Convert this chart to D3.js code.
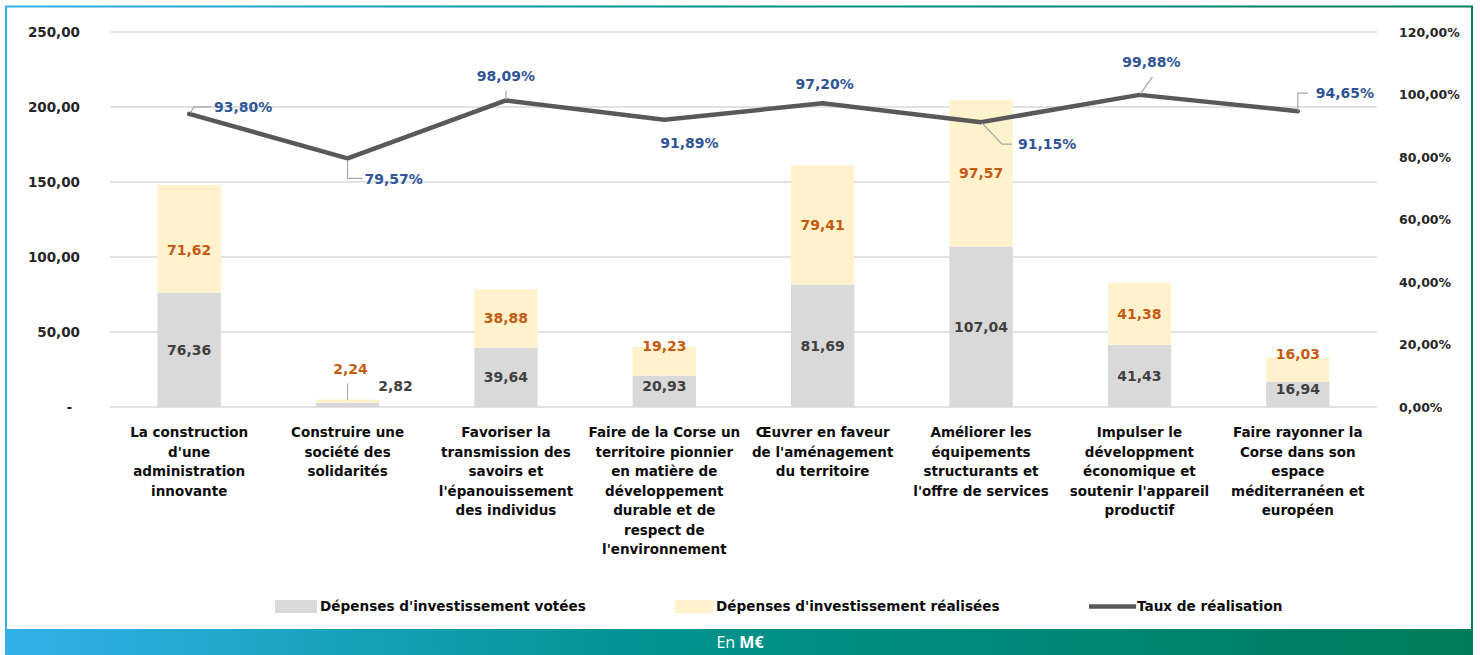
<!DOCTYPE html>
<html lang="fr">
<head>
<meta charset="utf-8">
<script src="https://cdn.jsdelivr.net/npm/d3@7"></script>
<style>
  html, body { margin: 0; padding: 0; background: #ffffff; }
  svg { display: block; }
  text { font-family: "DejaVu Sans", Verdana, sans-serif; }
</style>
</head>
<body>
<svg id="chart" width="1480" height="655"></svg>
<script>
// Axes des programmes (catégories)
const categories = [
  ["La construction", "d'une", "administration", "innovante"],
  ["Construire une", "société des", "solidarités"],
  ["Favoriser la", "transmission des", "savoirs et", "l'épanouissement", "des individus"],
  ["Faire de la Corse un", "territoire pionnier", "en matière de", "développement", "durable et de", "respect de", "l'environnement"],
  ["Œuvrer en faveur", "de l'aménagement", "du territoire"],
  ["Améliorer les", "équipements", "structurants et", "l'offre de services"],
  ["Impulser le", "développment", "économique et", "soutenir l'appareil", "productif"],
  ["Faire rayonner la", "Corse dans son", "espace", "méditerranéen et", "européen"]
];

// Montants en M€
const voted    = [76.36, 2.82, 39.64, 20.93, 81.69, 107.04, 41.43, 16.94];
const realized = [71.62, 2.24, 38.88, 19.23, 79.41, 97.57, 41.38, 16.03];
// Taux de réalisation (%)
const rate     = [93.80, 79.57, 98.09, 91.89, 97.20, 91.15, 99.88, 94.65];

const leftTicks  = [0, 50, 100, 150, 200, 250];
const rightTicks = [0, 20, 40, 60, 80, 100, 120];

const seriesNames = ["Dépenses d'investissement votées", "Dépenses d'investissement réalisées", "Taux de réalisation"];

const COLORS = {
  voted: "#d9d9d9",
  realized: "#fff2cc",
  line: "#595959",
  votedLabel: "#404040",
  realizedLabel: "#c55a11",
  rateLabel: "#2f5597",
  grid: "#d9d9d9",
  axisText: "#262626",
  leader: "#a6a6a6"
};

const fr = d3.formatLocale({ decimal: ",", thousands: " ", grouping: [3], currency: ["", " €"] });
const fmt2 = fr.format(".2f");

const svg = d3.select("#chart");
const keys = categories.map((c, i) => "c" + i);

// Plot area
const plot = { left: 110, right: 1377, top: 32, bottom: 407 };

const x = d3.scaleBand().domain(keys).range([plot.left, plot.right]).paddingInner(0.6).paddingOuter(0.3);
const yL = d3.scaleLinear().domain([0, 250]).range([plot.bottom, plot.top]);
const yR = d3.scaleLinear().domain([0, 120]).range([plot.bottom, plot.top]);

// Frame + footer gradients
const defs = svg.append("defs");
const grad = defs.append("linearGradient").attr("id", "band").attr("x1", "0").attr("x2", "1").attr("y1", "0").attr("y2", "0");
grad.append("stop").attr("offset", "0").attr("stop-color", "#31b1e9");
grad.append("stop").attr("offset", "0.45").attr("stop-color", "#00938e");
grad.append("stop").attr("offset", "1").attr("stop-color", "#007c5c");

svg.append("rect")
  .attr("x", 6).attr("y", 6.5).attr("width", 1466).attr("height", 630)
  .attr("fill", "none").attr("stroke", "url(#band)").attr("stroke-width", 2);

svg.append("rect")
  .attr("x", 5).attr("y", 629).attr("width", 1468).attr("height", 26)
  .attr("fill", "url(#band)");

const footer = svg.append("text")
  .attr("x", 740).attr("y", 648)
  .attr("text-anchor", "middle")
  .attr("fill", "#ffffff")
  .style("font-family", "'Open Sans', sans-serif")
  .style("font-size", "16px");
footer.append("tspan").text("En ");
footer.append("tspan").attr("font-weight", "bold").text("M€");

// Gridlines
svg.append("g")
  .selectAll("line")
  .data(leftTicks)
  .join("line")
  .attr("x1", plot.left).attr("x2", plot.right)
  .attr("y1", d => yL(d)).attr("y2", d => yL(d))
  .attr("stroke", COLORS.grid).attr("stroke-width", 1.5);

// Left axis
const axL = svg.append("g")
  .attr("transform", `translate(${plot.left},0)`)
  .call(d3.axisLeft(yL).tickValues(leftTicks).tickSize(0).tickPadding(30)
    .tickFormat(d => d === 0 ? "-" : fmt2(d)));
axL.select(".domain").remove();
axL.selectAll("text")
  .attr("fill", COLORS.axisText)
  .style("font-size", "13.5px").style("font-weight", "bold")
  .attr("dx", d => d === 0 ? -8 : 0);

// Right axis
const axR = svg.append("g")
  .attr("transform", `translate(${plot.right},0)`)
  .call(d3.axisRight(yR).tickValues(rightTicks).tickSize(0).tickPadding(22)
    .tickFormat(d => fmt2(d) + "%"));
axR.select(".domain").remove();
axR.selectAll("text")
  .attr("fill", COLORS.axisText)
  .style("font-size", "12.5px").style("font-weight", "bold");

// Stacked bars
const rows = keys.map((k, i) => ({ key: k, voted: voted[i], realized: realized[i] }));
const stack = d3.stack().keys(["voted", "realized"])(rows);
const fills = { voted: COLORS.voted, realized: COLORS.realized };

svg.append("g")
  .selectAll("g")
  .data(stack)
  .join("g")
  .attr("fill", s => fills[s.key])
  .selectAll("rect")
  .data(s => s)
  .join("rect")
  .attr("x", d => x(d.data.key))
  .attr("width", x.bandwidth())
  .attr("y", d => yL(d[1]))
  .attr("height", d => yL(d[0]) - yL(d[1]));

// Bar value labels: nudges for segments too small to hold their label
const votedNudge    = [[0, 0], [48, -19], [0, 0], [0, -5], [0, 0], [0, 0], [0, 0], [0, -5]];
const realizedNudge = [[0, 11], [3, -32], [0, 0], [0, -15], [0, 0], [0, 0], [0, 0], [0, -16]];

const labelLayer = svg.append("g").style("font-size", "14px").style("font-weight", "bold").attr("text-anchor", "middle");

stack.forEach(s => {
  const nudge = s.key === "voted" ? votedNudge : realizedNudge;
  labelLayer.append("g")
    .attr("fill", s.key === "voted" ? COLORS.votedLabel : COLORS.realizedLabel)
    .selectAll("text")
    .data(s)
    .join("text")
    .attr("x", (d, i) => x(d.data.key) + x.bandwidth() / 2 + nudge[i][0])
    .attr("y", (d, i) => (yL(d[0]) + yL(d[1])) / 2 + nudge[i][1])
    .attr("dy", "0.36em")
    .text(d => fmt2(d.data[s.key]));
});

// Leader for the small realized segment
{
  const i = 1;
  const cx = x(keys[i]) + x.bandwidth() / 2;
  const cy = (yL(voted[i]) + yL(voted[i] + realized[i])) / 2;
  svg.append("path")
    .attr("d", `M${cx},${cy - 18}V${cy - 1}`)
    .attr("stroke", COLORS.leader).attr("fill", "none").attr("stroke-width", 1);
}

// Rate line
const cxOf = i => x(keys[i]) + x.bandwidth() / 2;
const line = d3.line().x((d, i) => cxOf(i)).y(d => yR(d));
svg.append("path")
  .datum(rate)
  .attr("d", line)
  .attr("fill", "none")
  .attr("stroke", COLORS.line)
  .attr("stroke-width", 4.5)
  .attr("stroke-linejoin", "round")
  .attr("stroke-linecap", "round");

// Rate labels: text centre offset and leader path, relative to the point
const rateLabelPos = [
  { t: [54, -7],  leader: [[1, -1], [5, -7], [22, -7]] },
  { t: [46, 21],  leader: [[0, 2], [0, 20], [15, 20]] },
  { t: [0, -25],  leader: [[0, -1], [0, -10]] },
  { t: [25, 23],  leader: null },
  { t: [2, -19],  leader: null },
  { t: [66, 22],  leader: [[1, 1], [21, 22], [31, 22]] },
  { t: [12, -33], leader: [[1, -1], [13, -18]] },
  { t: [47, -18], leader: [[0, 0], [0, -18], [10, -18]] }
];

const rateLayer = svg.append("g");
rate.forEach((v, i) => {
  const px = cxOf(i), py = yR(v);
  const p = rateLabelPos[i];
  if (p.leader) {
    rateLayer.append("path")
      .attr("d", d3.line()(p.leader.map(([dx, dy]) => [px + dx, py + dy])))
      .attr("fill", "none").attr("stroke", COLORS.leader).attr("stroke-width", 1.2);
  }
  rateLayer.append("text")
    .attr("x", px + p.t[0]).attr("y", py + p.t[1]).attr("dy", "0.36em")
    .attr("text-anchor", "middle")
    .attr("fill", COLORS.rateLabel)
    .style("font-size", "14px").style("font-weight", "bold")
    .text(fmt2(v) + "%");
});

// Category labels
const catLayer = svg.append("g").attr("text-anchor", "middle").attr("fill", "#0d0d0d")
  .style("font-size", "13.5px").style("font-weight", "bold");
categories.forEach((lines, i) => {
  const t = catLayer.append("text").attr("x", cxOf(i)).attr("y", 437);
  lines.forEach((ln, j) => {
    t.append("tspan").attr("x", cxOf(i)).attr("y", 437 + j * 19.5).text(ln);
  });
});

// Legend
const legend = svg.append("g").style("font-size", "13.6px").style("font-weight", "bold").attr("fill", "#0d0d0d");
const legendItems = [
  { name: seriesNames[0], type: "rect", color: COLORS.voted, x0: 275, x1: 317, tx: 320 },
  { name: seriesNames[1], type: "rect", color: COLORS.realized, x0: 675, x1: 713, tx: 716 },
  { name: seriesNames[2], type: "line", color: COLORS.line, x0: 1089, x1: 1136, tx: 1137 }
];
legendItems.forEach(it => {
  if (it.type === "rect") {
    legend.append("rect").attr("x", it.x0).attr("y", 600).attr("width", it.x1 - it.x0).attr("height", 13).attr("fill", it.color);
  } else {
    legend.append("line").attr("x1", it.x0).attr("x2", it.x1).attr("y1", 606.5).attr("y2", 606.5)
      .attr("stroke", it.color).attr("stroke-width", 4.5);
  }
  legend.append("text").attr("x", it.tx).attr("y", 611).text(it.name);
});
</script>
</body>
</html>
